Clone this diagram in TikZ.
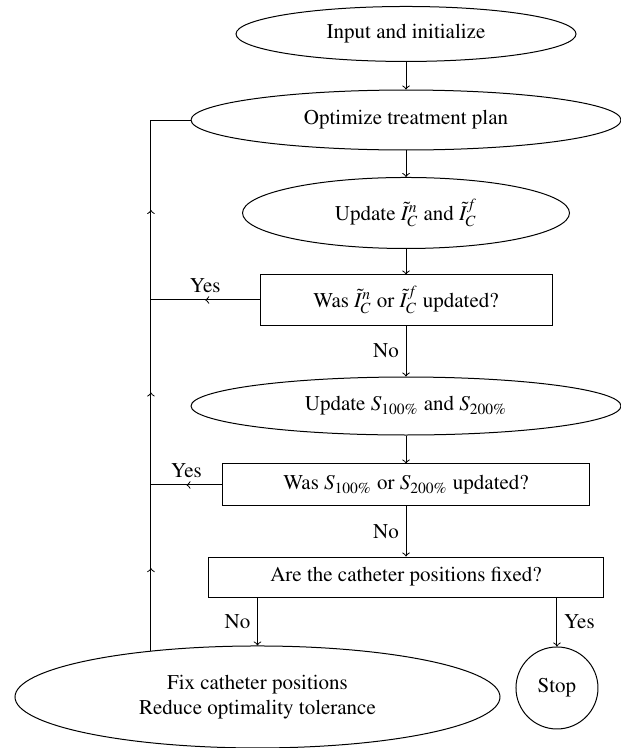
\documentclass[tikz,border=0pt]{standalone}
\usepackage[T1]{fontenc}
\usepackage{mathptmx}
\usetikzlibrary{shapes.geometric,decorations.markings}

\begin{document}
\begin{tikzpicture}[>=to,line width=0.5pt,
		font=\fontsize{10.5}{12.6}\selectfont,
		oval/.style={draw,ellipse,inner sep=0pt},
		question/.style={draw,rectangle,inner sep=0pt},
		midarrow/.style={postaction={decorate},
			decoration={markings,mark=at position 0.5 with {\arrow{>}}}}]
		% fix the size of the page
		\useasboundingbox (0cm,0cm) rectangle (10.913cm,-13.145cm);

		% the main column of steps
		\node[oval,minimum width=5.975cm,minimum height=0.966cm] (init) at (7.135cm,-0.597cm) {Input and initialize};
		\node[oval,minimum width=7.556cm,minimum height=1.054cm] (opt) at (7.135cm,-2.109cm) {Optimize treatment plan};
		\node[oval,minimum width=5.746cm,minimum height=1.248cm] (updI) at (7.135cm,-3.743cm) {Update $\tilde{I}_C^n$ and $\tilde{I}_C^f$};
		\node[question,minimum width=5.131cm,minimum height=0.879cm] (wasI) at (7.135cm,-5.272cm) {Was $\tilde{I}_C^n$ or $\tilde{I}_C^f$ updated?};
		\node[oval,minimum width=7.556cm,minimum height=1.019cm] (updS) at (7.135cm,-7.135cm) {Update $S_{100\%}$ and $S_{200\%}$};
		\node[question,minimum width=6.449cm,minimum height=0.738cm] (wasS) at (7.135cm,-8.523cm) {Was $S_{100\%}$ or $S_{200\%}$ updated?};
		\node[question,minimum width=6.941cm,minimum height=0.703cm] (fixed) at (7.135cm,-10.140cm) {Are the catheter positions fixed?};

		% the two end steps
		\node[oval,minimum width=8.523cm,minimum height=1.792cm,align=center] (fix) at (4.525cm,-12.248cm) {Fix catheter positions\\Reduce optimality tolerance};
		\node[draw,circle,minimum size=1.441cm,inner sep=0pt] (stop) at (9.788cm,-12.090cm) {Stop};

		% corners of the loop back to the top
		\coordinate (loopB) at (2.653cm,-11.445cm);
		\coordinate (loopS) at (2.653cm,-8.523cm);
		\coordinate (loopI) at (2.653cm,-5.272cm);
		\coordinate (loopT) at (2.653cm,-2.109cm);

		% arrows down the column
		\draw[->] (init) -- (opt);
		\draw[->] (opt) -- (updI);
		\draw[->] (updI) -- (wasI);
		\draw[->] (wasI) -- node[left] {No} (updS);
		\draw[->] (updS) -- (wasS);
		\draw[->] (wasS) -- node[left] {No} (fixed);
		\draw[->] (fixed.south -| fix.north) -- node[left] {No} (fix.north);
		\draw[->] (fixed.south -| stop.north) -- node[right] {Yes} (stop.north);

		% the yes branches
		\draw[midarrow] (wasI.west) -- node[above] {Yes} (loopI);
		\draw[midarrow] (wasS.west) -- node[above] {Yes} (loopS);

		% the loop back
		\draw[midarrow] (loopB) -- (loopS);
		\draw[midarrow] (loopS) -- (loopI);
		\draw[midarrow] (loopI) -- (loopT);
		\draw (loopT) -- (opt.west);
\end{tikzpicture}
\end{document}
